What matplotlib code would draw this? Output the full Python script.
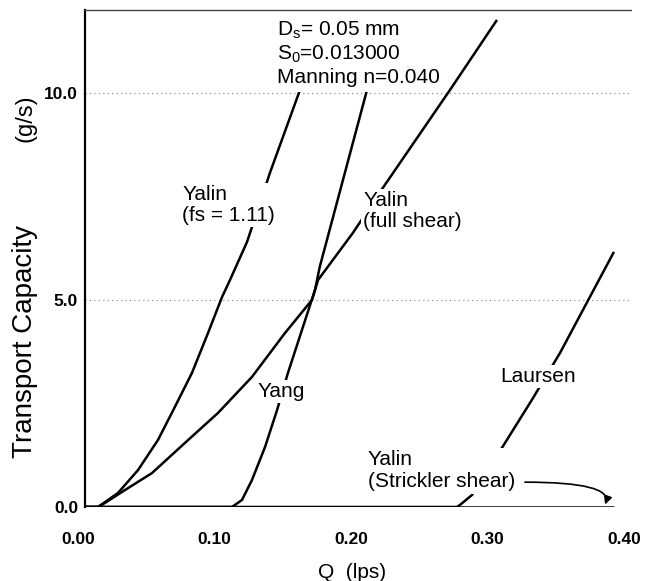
import matplotlib as mpl
import matplotlib.pyplot as plt
from matplotlib.transforms import ScaledTranslation

mpl.rcParams['font.family'] = 'Liberation Sans'
mpl.rcParams['mathtext.fontset'] = 'custom'
mpl.rcParams['mathtext.rm'] = 'Liberation Sans'
mpl.rcParams['mathtext.it'] = 'Liberation Sans:italic'

# curves, Q (lps) vs transport capacity (g/s)
yalin_fs_q = [0.0, 0.0095, 0.0242, 0.0388, 0.0535, 0.0659, 0.0784, 0.0901, 0.1004,
              0.1062, 0.1187, 0.1355, 0.1575, 0.170]
yalin_fs_t = [0.0, 0.0, 0.34, 0.89, 1.62, 2.42, 3.24, 4.20, 5.07,
              5.48, 6.40, 8.07, 10.07, 11.2]

yalin_full_q = [0.0, 0.0095, 0.0147, 0.0293, 0.0491, 0.0733, 0.0974, 0.1223, 0.1465,
                0.1663, 0.1707, 0.1963, 0.2183, 0.2674, 0.3018]
yalin_full_t = [0.0, 0.0, 0.10, 0.41, 0.82, 1.55, 2.27, 3.14, 4.20,
                5.0, 5.48, 6.62, 7.71, 10.07, 11.76]

yang_q = [0.0, 0.1077, 0.115, 0.1223, 0.1319, 0.1407, 0.1487, 0.159, 0.1685, 0.172, 0.2066, 0.218]
yang_t = [0.0, 0.0, 0.17, 0.65, 1.45, 2.34, 3.24, 4.28, 5.24, 5.80, 10.07, 11.5]

laursen_q = [0.0, 0.2725, 0.2747, 0.2835, 0.300, 0.3282, 0.348, 0.3875]
laursen_t = [0.0, 0.0, 0.05, 0.29, 1.14, 2.63, 3.72, 6.16]

strickler_q = [0.0, 0.3875]
strickler_t = [0.0, 0.0]

xticks = [0.0, 0.1, 0.2, 0.3, 0.4]
xticklabels = ['0.00', '0.10', '0.20', '0.30', '0.40']
yticks = [0.0, 5.0, 10.0]
yticklabels = ['0.0', '5.0', '10.0']

fig = plt.figure(figsize=(6.55, 5.81), dpi=100)
ax = fig.add_axes([85/655, 74/581, 546/655, 497/581])

lw = 1.8
for q, t in [(yalin_fs_q, yalin_fs_t), (yalin_full_q, yalin_full_t),
             (yang_q, yang_t), (laursen_q, laursen_t),
             (strickler_q, strickler_t)]:
    ax.plot(q, t, color='black', lw=lw, solid_capstyle='butt',
            solid_joinstyle='round', zorder=2)

ax.set_xlim(0, 0.4)
ax.set_ylim(0, 12)

ax.set_xticks(xticks)
ax.set_xticklabels(xticklabels, fontsize=12.5, fontweight='bold')
ax.set_yticks(yticks)
ax.set_yticklabels(yticklabels, fontsize=12.5, fontweight='bold')
ax.tick_params(axis='x', length=0, pad=18)
ax.tick_params(axis='y', length=0, pad=5)
shift = ScaledTranslation(-7/100, 0, fig.dpi_scale_trans)
for lab in ax.get_xticklabels():
    lab.set_transform(lab.get_transform() + shift)

# sparse dotted grid at 5 and 10
for yv in [5.0, 10.0]:
    ax.axhline(yv, color='gray', lw=0.8, ls=(0, (1, 3)), zorder=1)

ax.spines['right'].set_visible(False)
ax.spines['bottom'].set_visible(False)
ax.spines['top'].set_linestyle((0, (1, 1)))
ax.spines['top'].set_color('#444444')
ax.spines['top'].set_linewidth(1.0)
ax.spines['left'].set_linewidth(1.6)

box = dict(facecolor='white', edgecolor='none', pad=1.5)
fs = 15

ax.text(0.0711, 7.29, "Yalin\n(fs = 1.11)", fontsize=fs, ha='left', va='center',
        linespacing=1.15, bbox=box, zorder=3)
ax.text(0.1436, 2.78, "Yang", fontsize=fs, ha='center', va='center', bbox=box, zorder=3)
ax.text(0.2037, 7.15, "Yalin\n(full shear)", fontsize=fs, ha='left', va='center',
        linespacing=1.15, bbox=box, zorder=3)
ax.text(0.3319, 3.16, "Laursen", fontsize=fs, ha='center', va='center', bbox=box, zorder=3)
ax.text(0.2073, 0.88, "Yalin\n(Strickler shear)", fontsize=fs, ha='left', va='center',
        linespacing=1.25, bbox=box, zorder=3)

ax.annotate('', xy=(0.381, 0.06), xytext=(0.3223, 0.60),
            arrowprops=dict(arrowstyle='-|>', color='black', lw=1.2,
                            connectionstyle='angle3,angleA=0,angleB=70',
                            shrinkA=0, shrinkB=0, mutation_scale=12),
            zorder=3)

tbox = dict(facecolor='white', edgecolor='none', pad=4)
ax.text(0.1407, 11.52, r"D$_{\mathrm{s}}$= 0.05 mm", fontsize=fs, ha='left', va='center',
        bbox=tbox, zorder=3)
ax.text(0.1407, 10.94, r"S$_{\mathrm{0}}$=0.013000", fontsize=fs, ha='left', va='center',
        bbox=tbox, zorder=3)
ax.text(0.1407, 10.38, "Manning n=0.040", fontsize=fs, ha='left', va='center',
        bbox=tbox, zorder=3)

fig.text(25/655, 1 - 341/581, "Transport Capacity", fontsize=20, rotation=90,
         ha='center', va='center')
fig.text(25/655, 1 - 118/581, "(g/s)", fontsize=17, rotation=90,
         ha='center', va='center')
fig.text(352/655, 1 - 572/581, "Q  (lps)", fontsize=15, ha='center', va='center')

fig.savefig('out.png', dpi=100)
